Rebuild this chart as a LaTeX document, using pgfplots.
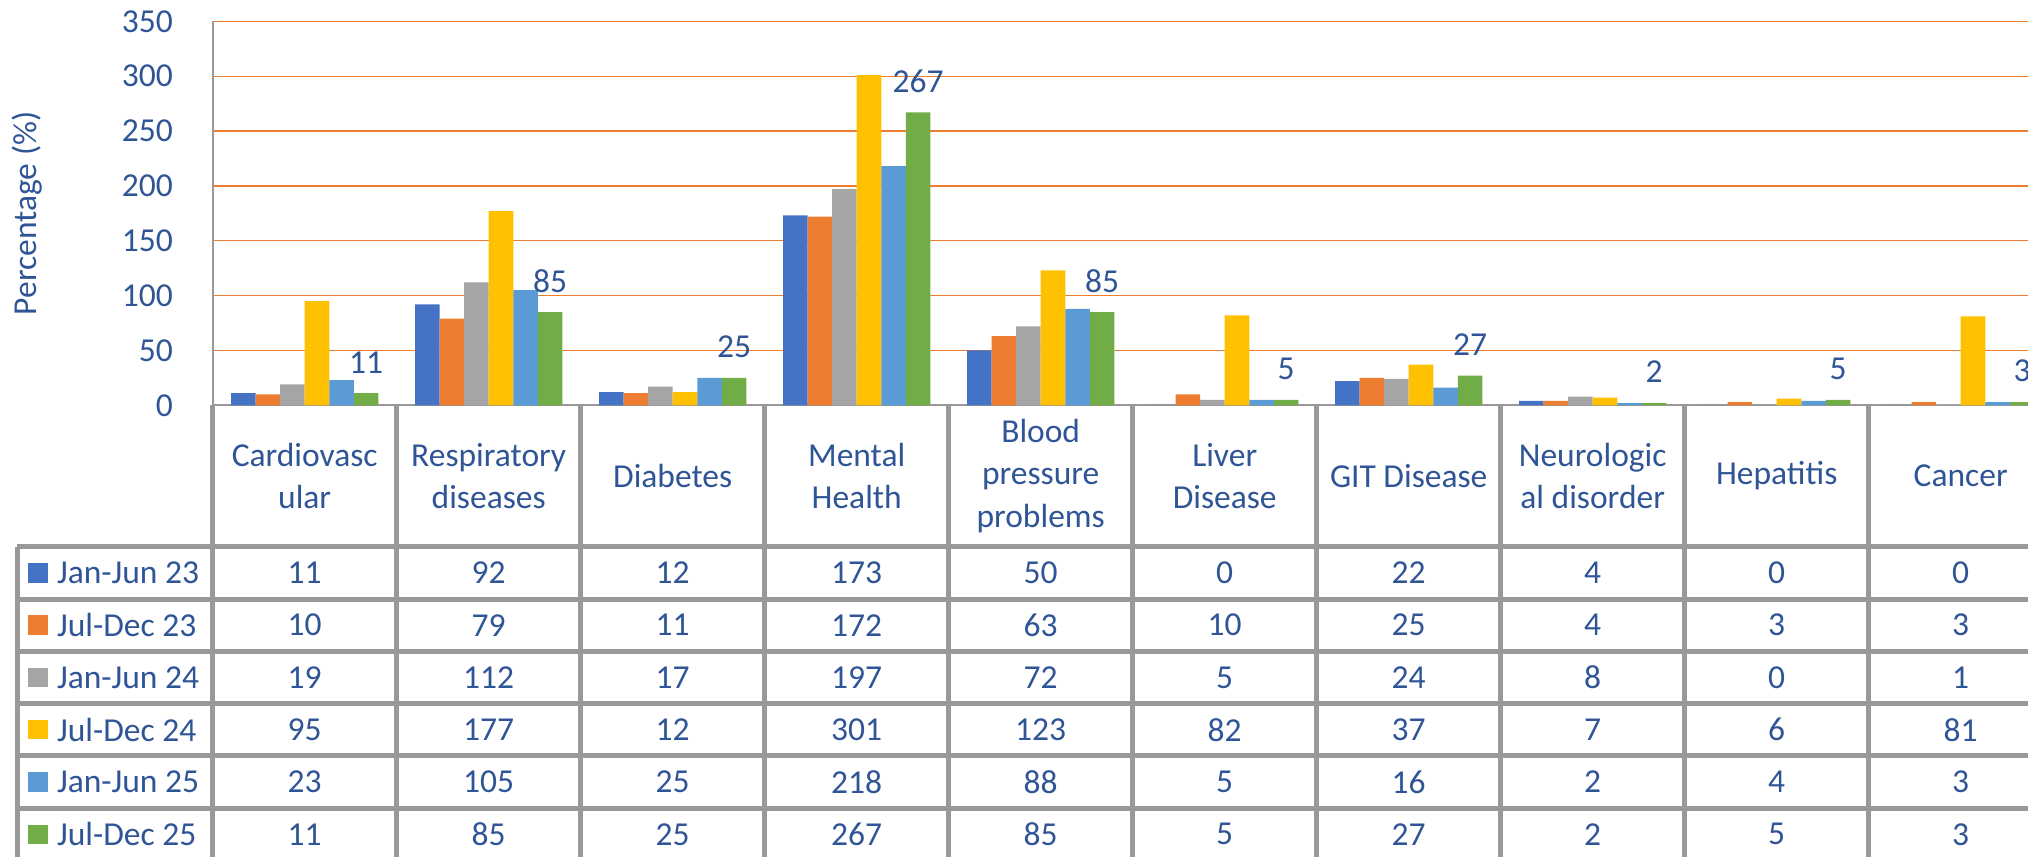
\documentclass[border=0pt]{standalone}
\usepackage{pgfplots}
\pgfplotsset{compat=1.18}
\usepackage{pgfplotstable}
\usepackage{fontspec}
\setmainfont{Carlito}
\newlength\px \setlength\px{0.4pt}
\definecolor{c1}{HTML}{4472C4}
\definecolor{c2}{HTML}{ED7D31}
\definecolor{c3}{HTML}{A5A5A5}
\definecolor{c4}{HTML}{FFC000}
\definecolor{c5}{HTML}{5B9BD5}
\definecolor{c6}{HTML}{70AD47}
\definecolor{txt}{HTML}{2F5597}
\definecolor{grd}{HTML}{ED7D31}
\definecolor{ln}{HTML}{999999}
\newcommand\chartfont{\fontsize{13.4}{17}\selectfont}

\pgfplotstableread{
cat s1 s2 s3 s4 s5 s6
0 11 10 19 95 23 11
1 92 79 112 177 105 85
2 12 11 17 12 25 25
3 173 172 197 301 218 267
4 50 63 72 123 88 85
5 0 10 5 82 5 5
6 22 25 24 37 16 27
7 4 4 8 7 2 2
8 0 3 0 6 4 5
9 0 3 1 81 3 3
}\datatab

\begin{document}
\begin{tikzpicture}
\path[use as bounding box, clip] (0,0) rectangle (2028\px,856\px);
\begin{axis}[
  at={(212.7\px,450.7\px)}, anchor=south west,
  scale only axis, width=1840\px, height=384\px,
  xmin=-0.5, xmax=9.5, ymin=0, ymax=350,
  ybar=0pt, bar width=0.1335,
  ytick={0,50,...,350},
  xtick={0,...,9},
  xticklabels={{Cardiovasc\\ular},{Respiratory\\diseases},{Diabetes},{Mental\\Health},{Blood\\pressure\\problems},{Liver\\Disease},{GIT Disease},{Neurologic\\al disorder},{Hepatitis},{Cancer}},
  xticklabel style={align=center, anchor=center, yshift=-70.7\px, font=\chartfont, text=txt},
  yticklabel style={font=\chartfont, text=txt, xshift=-31\px},
  major tick length=0,
  ymajorgrids, grid style={grd, line width=1.3\px},
  axis x line*=bottom, axis y line*=left,
  axis line style={ln, line width=2\px},
  /pgf/number format/assume math mode=true,
  ylabel={Percentage (\%)},
  every axis y label/.style={at={(axis description cs:0,0.5)}, rotate=90, anchor=center, yshift=185.7\px, font=\chartfont, text=txt},
  clip=false,
]
\addplot[fill=c1, draw=none] table[x=cat, y=s1] {\datatab};
\addplot[fill=c2, draw=none] table[x=cat, y=s2] {\datatab};
\addplot[fill=c3, draw=none] table[x=cat, y=s3] {\datatab};
\addplot[fill=c4, draw=none] table[x=cat, y=s4] {\datatab};
\addplot[fill=c5, draw=none] table[x=cat, y=s5] {\datatab};
\addplot[fill=c6, draw=none, nodes near coords,
  nodes near coords style={font=\chartfont, text=txt, anchor=center, yshift=31\px}] table[x=cat, y=s6] {\datatab};
\end{axis}
\begin{scope}[x=0.4pt, y=0.4pt]
  % table grid
  \foreach \k in {0,...,10} {
    \draw[ln, line width=2] ({212.7+184*\k}, 450.7) -- ({212.7+184*\k}, -20);
  }
  \foreach \k in {0,...,6} {
    \draw[ln, line width=2] (17, {309.3-52.3*\k}) -- (2100, {309.3-52.3*\k});
  }
  \draw[ln, line width=2] (17, 309.3) -- (17, -20);
  % legend cells
  \foreach \r/\col/\lab in {0/c1/Jan-Jun 23, 1/c2/Jul-Dec 23, 2/c3/Jan-Jun 24, 3/c4/Jul-Dec 24, 4/c5/Jan-Jun 25, 5/c6/Jul-Dec 25} {
    \fill[\col] (28, {283.15-52.3*\r-9.7}) rectangle (47.5, {283.15-52.3*\r+9.7});
    \node[anchor=west, font=\chartfont, text=txt, inner sep=0] at (56.6, {283.15-52.3*\r}) {\lab};
  }
  % values
  \foreach \r in {0,...,5} {
    \foreach \c in {0,...,9} {
      \pgfplotstablegetelem{\c}{[index]\the\numexpr\r+1\relax}\of\datatab
      \node[font=\chartfont, text=txt, inner sep=0] at ({304.7+184*\c}, {283.15-52.3*\r}) {\pgfplotsretval};
    }
  }
\end{scope}
\end{tikzpicture}
\end{document}
